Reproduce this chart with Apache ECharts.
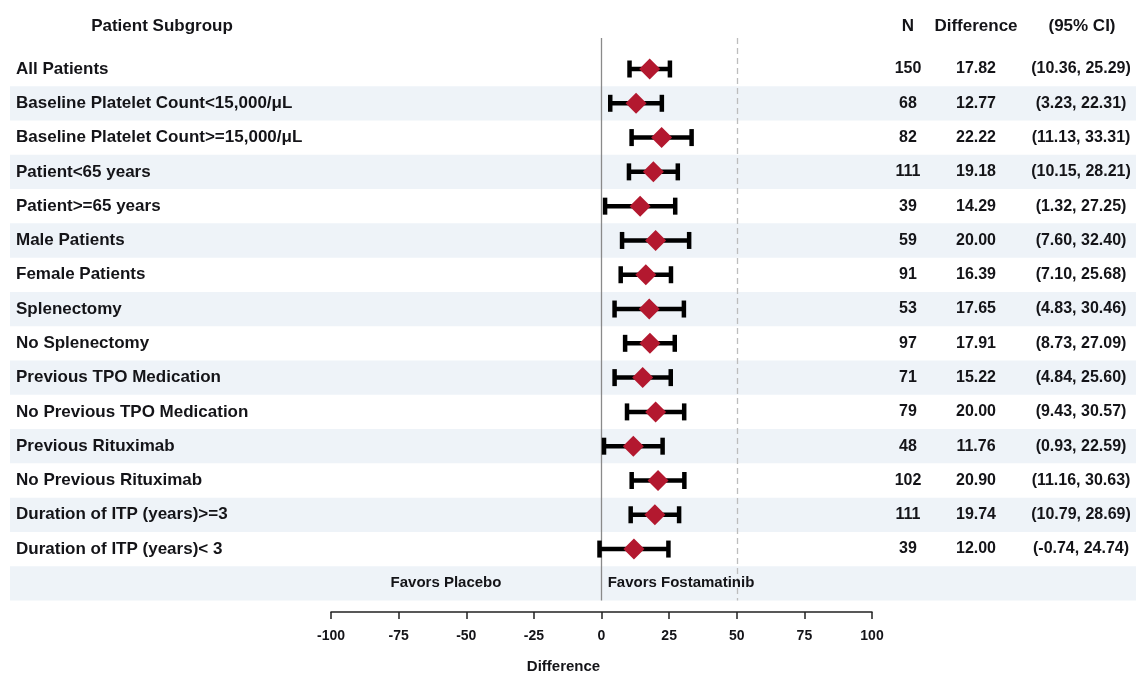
<!DOCTYPE html>
<html><head><meta charset="utf-8">
<script src="https://cdn.jsdelivr.net/npm/echarts@6/dist/echarts.min.js"></script>
<style>html,body{margin:0;padding:0;background:#fff}#c{width:1136px;height:675px}</style>
</head><body><div id="c"></div>
<script>
var subgroups = ["All Patients","Baseline Platelet Count<15,000/\u03bcL","Baseline Platelet Count>=15,000/\u03bcL","Patient<65 years","Patient>=65 years","Male Patients","Female Patients","Splenectomy","No Splenectomy","Previous TPO Medication","No Previous TPO Medication","Previous Rituximab","No Previous Rituximab","Duration of ITP (years)>=3","Duration of ITP (years)< 3"];
var nVals = [150,68,82,111,39,59,91,53,97,71,79,48,102,111,39];
var diffs = [17.82,12.77,22.22,19.18,14.29,20.00,16.39,17.65,17.91,15.22,20.00,11.76,20.90,19.74,12.00];
var lower = [10.36,3.23,11.13,10.15,1.32,7.60,7.10,4.83,8.73,4.84,9.43,0.93,11.16,10.79,-0.74];
var upper = [25.29,22.31,33.31,28.21,27.25,32.40,25.68,30.46,27.09,25.60,30.57,22.59,30.63,28.69,24.74];
var xTicks = {min:-100, max:100, interval:25};
var refLines = [0, 50];
var headers = ["Patient Subgroup","N","Difference","(95% CI)"];
var favorLabels = ["Favors Placebo","Favors Fostamatinib"];

var FONT = 'Liberation Sans, Arial, sans-serif';
var TXT = '#141418';
var rowCats = subgroups.concat(['']);
var chart = echarts.init(document.getElementById('c'), null, {renderer:'canvas'});

var barData = subgroups.map(function(s,i){return [lower[i], upper[i], i];});
var ptData = subgroups.map(function(s,i){return [diffs[i], i];});
var textData = subgroups.map(function(s,i){return [0, i];});
var nText = nVals.map(function(v){return String(v);});
var diffText = diffs.map(function(v){return v.toFixed(2);});
var ciText = lower.map(function(v,i){return '(' + v.toFixed(2) + ', ' + upper[i].toFixed(2) + ')';});

function hdr(t, x){
  return {type:'text', x:0, y:0, style:{text:t, x:x, y:26, align:'center', verticalAlign:'middle', fill:TXT, font:'bold 17px '+FONT}};
}

var option = {
  animation:false,
  grid:[
    {left:331, right:264, top:38, height:562.5, containLabel:false, outerBoundsMode:'none'},
    {left:10, right:0, top:51.9, height:548.6, containLabel:false, outerBoundsMode:'none'}
  ],
  xAxis:[
    {gridIndex:0, type:'value', min:xTicks.min, max:xTicks.max, interval:xTicks.interval, offset:11.5,
     axisLine:{show:true, onZero:false, lineStyle:{color:'#222', width:1.5}},
     axisTick:{show:true, inside:false, length:7, lineStyle:{color:'#222', width:1.5}},
     axisLabel:{margin:17, color:TXT, fontFamily:FONT, fontWeight:'bold', fontSize:14},
     splitLine:{show:false},
     name:'Difference', nameLocation:'middle', nameGap:47,
     nameTextStyle:{color:TXT, fontFamily:FONT, fontWeight:'bold', fontSize:15, padding:[0,76,0,0]}},
    {gridIndex:1, type:'value', min:0, max:1, show:false}
  ],
  yAxis:[
    {gridIndex:0, type:'value', inverse:true, min:-0.904, max:15.5, show:false},
    {gridIndex:1, type:'category', inverse:true, data:rowCats,
     axisLine:{show:false}, axisTick:{show:false}, splitLine:{show:false},
     splitArea:{show:true, areaStyle:{color:['rgba(255,255,255,0)','#EEF3F8']}},
     axisLabel:{align:'left', margin:-6, color:TXT, fontFamily:FONT, fontWeight:'bold', fontSize:17}}
  ],
  graphic:[hdr(headers[0],162), hdr(headers[1],908), hdr(headers[2],976), hdr(headers[3],1082)],
  series:[
    {type:'custom', xAxisIndex:1, yAxisIndex:1, data:textData, z:3,
     renderItem:function(params, api){
       var i = params.dataIndex;
       var y = api.coord([0, api.value(1)])[1];
       var st = function(t,x){return {type:'text', style:{text:t, x:x, y:y, align:'center', verticalAlign:'middle', fill:TXT, font:'bold 16px '+FONT}};};
       return {type:'group', children:[st(nText[i],908), st(diffText[i],976), st(ciText[i],1081)]};
     }},
    {type:'custom', xAxisIndex:1, yAxisIndex:1, data:[[0,15]], z:3,
     renderItem:function(params, api){
       var y = api.coord([0, api.value(1)])[1];
       return {type:'group', children:[
         {type:'text', style:{text:favorLabels[0], x:446, y:y, align:'center', verticalAlign:'middle', fill:TXT, font:'bold 15px '+FONT}},
         {type:'text', style:{text:favorLabels[1], x:681, y:y, align:'center', verticalAlign:'middle', fill:TXT, font:'bold 15px '+FONT}}
       ]};
     }},
    {type:'custom', xAxisIndex:0, yAxisIndex:0, data:barData, z:4,
     renderItem:function(params, api){
       var i = api.value(2);
       var a = api.coord([api.value(0), i]);
       var b = api.coord([api.value(1), i]);
       var h = 8.5;
       var ls = {stroke:'#000', lineWidth:4.5};
       return {type:'group', children:[
         {type:'line', shape:{x1:a[0], y1:a[1], x2:b[0], y2:b[1]}, style:ls},
         {type:'line', shape:{x1:a[0], y1:a[1]-h, x2:a[0], y2:a[1]+h}, style:ls},
         {type:'line', shape:{x1:b[0], y1:b[1]-h, x2:b[0], y2:b[1]+h}, style:ls}
       ]};
     }},
    {type:'scatter', xAxisIndex:0, yAxisIndex:0, data:ptData, symbol:'diamond', symbolSize:[21,21], z:5,
     itemStyle:{color:'#B3182F', opacity:1},
     markLine:{silent:true, symbol:'none', label:{show:false}, z:2,
       data:[
         {xAxis:refLines[0], lineStyle:{color:'#8a8a8a', width:1.3, type:'solid'}},
         {xAxis:refLines[1], lineStyle:{color:'#bdbdbd', width:1.3, type:[6,4]}}
       ]}}
  ]
};
chart.setOption(option);
</script></body></html>
